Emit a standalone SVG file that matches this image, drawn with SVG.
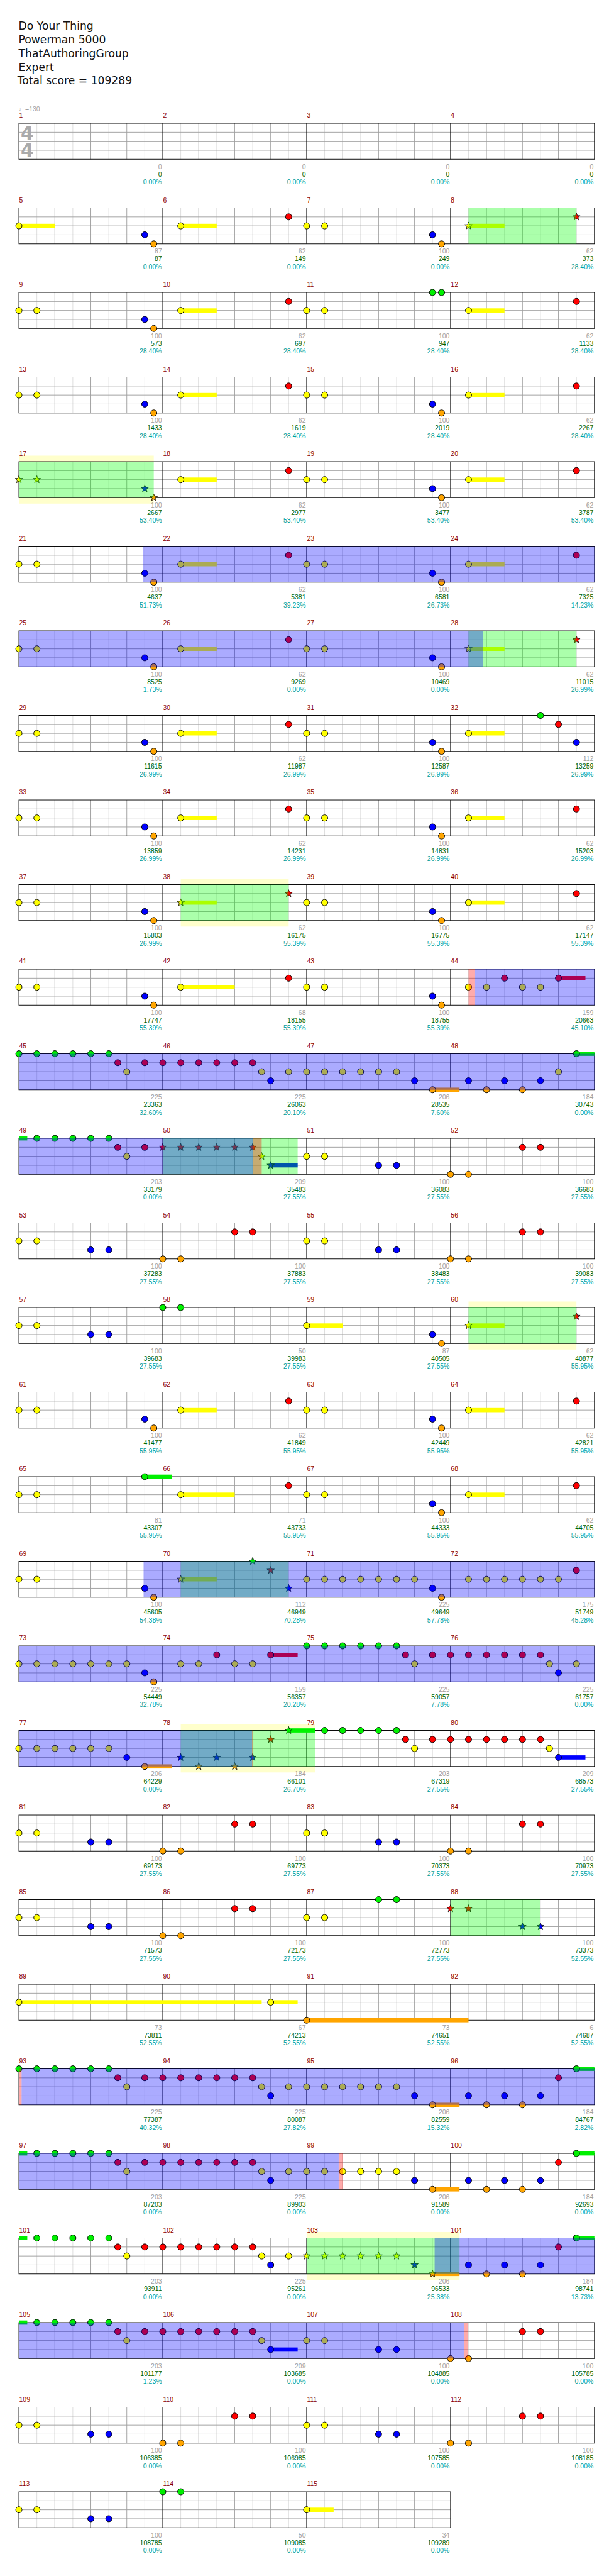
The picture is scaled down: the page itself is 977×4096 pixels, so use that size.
<svg xmlns="http://www.w3.org/2000/svg" xmlns:xlink="http://www.w3.org/1999/xlink" width="977" height="4096" viewBox="0 0 977 4096">
<style>
.t{font-family:"DejaVu Sans",sans-serif;font-size:18px;fill:#111}
.tm{font-family:"Liberation Sans","DejaVu Sans",sans-serif;font-size:11px;fill:#a0a0a0}
.ts{font-family:"DejaVu Sans",sans-serif;font-size:31px;font-weight:bold;fill:#aaa}
.mn{font-family:"Liberation Sans",Arial,sans-serif;font-size:11px;fill:#8b0000}
.a{font-family:"Liberation Sans",Arial,sans-serif;font-size:11px;text-anchor:end}
.g{fill:#a0a0a0}.s{fill:#006400}.p{fill:#00a0a0}
.uG{fill:#00f000}.uR{fill:#f00}.uY{fill:#ff0}.uB{fill:#00f}.uO{fill:#ffa500}
.ovg{fill:#0f0;fill-opacity:.33}.ovb{fill:#00f;fill-opacity:.33}.ovr{fill:#f00;fill-opacity:.33}.py{fill:#ffffcc}
.lt{stroke:#dcdcdc;stroke-width:1;fill:none}.gr{stroke:#a0a0a0;stroke-width:1;fill:none}.bk{stroke:#000;stroke-width:1;fill:none}
</style>
<defs>
<circle id="G" cy="0" r="5.2" fill="#00f000" stroke="#000"/>
<circle id="R" cy="15" r="5.2" fill="#f00" stroke="#000"/>
<circle id="Y" cy="30" r="5.2" fill="#ff0" stroke="#000"/>
<circle id="B" cy="45" r="5.2" fill="#00f" stroke="#000"/>
<circle id="O" cy="60" r="5.2" fill="#ffa500" stroke="#000"/>
<path id="st" d="M0-6.5L1.59-2.18 6.18-2.01 2.57 .83 3.82 5.26 0 2.7-3.82 5.26-2.57 .83-6.18-2.01-1.59-2.18Z"/>
<use id="SG" href="#st" y="0" fill="#00f000" stroke="#000" stroke-width=".8"/>
<use id="SR" href="#st" y="15" fill="#f00" stroke="#000" stroke-width=".8"/>
<use id="SY" href="#st" y="30" fill="#ff0" stroke="#000" stroke-width=".8"/>
<use id="SB" href="#st" y="45" fill="#00f" stroke="#000" stroke-width=".8"/>
<use id="SO" href="#st" y="60" fill="#ffa500" stroke="#000" stroke-width=".8"/>
<g id="staff4">
<rect width="960" height="60" fill="#fff"/>
<path class="lt" d="M30 0V60M90 0V60M150 0V60M210 0V60M270 0V60M330 0V60M390 0V60M450 0V60M510 0V60M570 0V60M630 0V60M690 0V60M750 0V60M810 0V60M870 0V60M930 0V60"/>
<path class="gr" d="M60 0V60M120 0V60M180 0V60M300 0V60M360 0V60M420 0V60M540 0V60M600 0V60M660 0V60M780 0V60M840 0V60M900 0V60M0 15H960M0 30H960M0 45H960"/>
<path class="bk" d="M240 0V60M480 0V60M720 0V60"/>
<rect class="bk" width="960" height="60"/>
</g>
<g id="staff3">
<rect width="720" height="60" fill="#fff"/>
<path class="lt" d="M30 0V60M90 0V60M150 0V60M210 0V60M270 0V60M330 0V60M390 0V60M450 0V60M510 0V60M570 0V60M630 0V60M690 0V60"/>
<path class="gr" d="M60 0V60M120 0V60M180 0V60M300 0V60M360 0V60M420 0V60M540 0V60M600 0V60M660 0V60M0 15H720M0 30H720M0 45H720"/>
<path class="bk" d="M240 0V60M480 0V60"/>
<rect class="bk" width="720" height="60"/>
</g>
</defs>
<rect width="977" height="4096" fill="#fff"/>
<g transform="scale(0.9539)">
<g id="header">
<text class="t" x="31" y="49">Do Your Thing</text>
<text class="t" x="31" y="72">Powerman 5000</text>
<text class="t" x="31" y="95">ThatAuthoringGroup</text>
<text class="t" x="31" y="118">Expert</text>
<text class="t" x="29" y="141">Total score = 109289</text>
<text class="tm" x="31" y="185.5">♩=130</text>
</g>

<g id="row1" transform="translate(31.5 205.5)"><use href="#staff4"/>
<g id="m1"><text class="mn" x="0.5" y="-9">1</text><text class="ts" x="3" y="27">4</text><text class="ts" x="3" y="56">4</text><text class="a g" x="238.5" y="76">0</text><text class="a s" x="238.5" y="89">0</text><text class="a p" x="238.5" y="102">0.00%</text></g>
<g id="m2" transform="translate(240)"><text class="mn" x="0.5" y="-9">2</text><text class="a g" x="238.5" y="76">0</text><text class="a s" x="238.5" y="89">0</text><text class="a p" x="238.5" y="102">0.00%</text></g>
<g id="m3" transform="translate(480)"><text class="mn" x="0.5" y="-9">3</text><text class="a g" x="238.5" y="76">0</text><text class="a s" x="238.5" y="89">0</text><text class="a p" x="238.5" y="102">0.00%</text></g>
<g id="m4" transform="translate(720)"><text class="mn" x="0.5" y="-9">4</text><text class="a g" x="238.5" y="76">0</text><text class="a s" x="238.5" y="89">0</text><text class="a p" x="238.5" y="102">0.00%</text></g>
</g>

<g id="row2" transform="translate(31.5 346.5)"><use href="#staff4"/>
<g id="m5"><text class="mn" x="0.5" y="-9">5</text><rect class="uY" x="0" y="26.5" width="60" height="7"/><use href="#Y" x="0"/><use href="#B" x="210"/><use href="#O" x="225"/><text class="a g" x="238.5" y="76">87</text><text class="a s" x="238.5" y="89">87</text><text class="a p" x="238.5" y="102">0.00%</text></g>
<g id="m6" transform="translate(240)"><text class="mn" x="0.5" y="-9">6</text><rect class="uY" x="30" y="26.5" width="60" height="7"/><use href="#Y" x="30"/><use href="#R" x="210"/><text class="a g" x="238.5" y="76">62</text><text class="a s" x="238.5" y="89">149</text><text class="a p" x="238.5" y="102">0.00%</text></g>
<g id="m7" transform="translate(480)"><text class="mn" x="0.5" y="-9">7</text><use href="#Y" x="0"/><use href="#Y" x="30"/><use href="#B" x="210"/><use href="#O" x="225"/><text class="a g" x="238.5" y="76">100</text><text class="a s" x="238.5" y="89">249</text><text class="a p" x="238.5" y="102">0.00%</text></g>
<g id="m8" transform="translate(720)"><text class="mn" x="0.5" y="-9">8</text><rect class="uY" x="30" y="26.5" width="60" height="7"/><use href="#SY" x="30"/><use href="#SR" x="210"/><text class="a g" x="238.5" y="76">62</text><text class="a s" x="238.5" y="89">373</text><text class="a p" x="238.5" y="102">28.40%</text></g>
<rect class="ovg" x="750" width="180" height="60"/>
</g>

<g id="row3" transform="translate(31.5 487.5)"><use href="#staff4"/>
<g id="m9"><text class="mn" x="0.5" y="-9">9</text><use href="#Y" x="0"/><use href="#Y" x="30"/><use href="#B" x="210"/><use href="#O" x="225"/><text class="a g" x="238.5" y="76">100</text><text class="a s" x="238.5" y="89">573</text><text class="a p" x="238.5" y="102">28.40%</text></g>
<g id="m10" transform="translate(240)"><text class="mn" x="0.5" y="-9">10</text><rect class="uY" x="30" y="26.5" width="60" height="7"/><use href="#Y" x="30"/><use href="#R" x="210"/><text class="a g" x="238.5" y="76">62</text><text class="a s" x="238.5" y="89">697</text><text class="a p" x="238.5" y="102">28.40%</text></g>
<g id="m11" transform="translate(480)"><text class="mn" x="0.5" y="-9">11</text><use href="#Y" x="0"/><use href="#Y" x="30"/><use href="#G" x="210"/><use href="#G" x="225"/><text class="a g" x="238.5" y="76">100</text><text class="a s" x="238.5" y="89">947</text><text class="a p" x="238.5" y="102">28.40%</text></g>
<g id="m12" transform="translate(720)"><text class="mn" x="0.5" y="-9">12</text><rect class="uY" x="30" y="26.5" width="60" height="7"/><use href="#Y" x="30"/><use href="#R" x="210"/><text class="a g" x="238.5" y="76">62</text><text class="a s" x="238.5" y="89">1133</text><text class="a p" x="238.5" y="102">28.40%</text></g>
</g>

<g id="row4" transform="translate(31.5 628.5)"><use href="#staff4"/>
<g id="m13"><text class="mn" x="0.5" y="-9">13</text><use href="#Y" x="0"/><use href="#Y" x="30"/><use href="#B" x="210"/><use href="#O" x="225"/><text class="a g" x="238.5" y="76">100</text><text class="a s" x="238.5" y="89">1433</text><text class="a p" x="238.5" y="102">28.40%</text></g>
<g id="m14" transform="translate(240)"><text class="mn" x="0.5" y="-9">14</text><rect class="uY" x="30" y="26.5" width="60" height="7"/><use href="#Y" x="30"/><use href="#R" x="210"/><text class="a g" x="238.5" y="76">62</text><text class="a s" x="238.5" y="89">1619</text><text class="a p" x="238.5" y="102">28.40%</text></g>
<g id="m15" transform="translate(480)"><text class="mn" x="0.5" y="-9">15</text><use href="#Y" x="0"/><use href="#Y" x="30"/><use href="#B" x="210"/><use href="#O" x="225"/><text class="a g" x="238.5" y="76">100</text><text class="a s" x="238.5" y="89">2019</text><text class="a p" x="238.5" y="102">28.40%</text></g>
<g id="m16" transform="translate(720)"><text class="mn" x="0.5" y="-9">16</text><rect class="uY" x="30" y="26.5" width="60" height="7"/><use href="#Y" x="30"/><use href="#R" x="210"/><text class="a g" x="238.5" y="76">62</text><text class="a s" x="238.5" y="89">2267</text><text class="a p" x="238.5" y="102">28.40%</text></g>
</g>

<g id="row5" transform="translate(31.5 769.5)"><rect class="py" x="0" y="-10" width="225" height="80"/><use href="#staff4"/>
<g id="m17"><text class="mn" x="0.5" y="-9">17</text><use href="#SY" x="0"/><use href="#SY" x="30"/><use href="#SB" x="210"/><use href="#SO" x="225"/><text class="a g" x="238.5" y="76">100</text><text class="a s" x="238.5" y="89">2667</text><text class="a p" x="238.5" y="102">53.40%</text></g>
<g id="m18" transform="translate(240)"><text class="mn" x="0.5" y="-9">18</text><rect class="uY" x="30" y="26.5" width="60" height="7"/><use href="#Y" x="30"/><use href="#R" x="210"/><text class="a g" x="238.5" y="76">62</text><text class="a s" x="238.5" y="89">2977</text><text class="a p" x="238.5" y="102">53.40%</text></g>
<g id="m19" transform="translate(480)"><text class="mn" x="0.5" y="-9">19</text><use href="#Y" x="0"/><use href="#Y" x="30"/><use href="#B" x="210"/><use href="#O" x="225"/><text class="a g" x="238.5" y="76">100</text><text class="a s" x="238.5" y="89">3477</text><text class="a p" x="238.5" y="102">53.40%</text></g>
<g id="m20" transform="translate(720)"><text class="mn" x="0.5" y="-9">20</text><rect class="uY" x="30" y="26.5" width="60" height="7"/><use href="#Y" x="30"/><use href="#R" x="210"/><text class="a g" x="238.5" y="76">62</text><text class="a s" x="238.5" y="89">3787</text><text class="a p" x="238.5" y="102">53.40%</text></g>
<rect class="ovg" x="0" width="225" height="60"/>
</g>

<g id="row6" transform="translate(31.5 910.5)"><use href="#staff4"/>
<g id="m21"><text class="mn" x="0.5" y="-9">21</text><use href="#Y" x="0"/><use href="#Y" x="30"/><use href="#B" x="210"/><use href="#O" x="225"/><text class="a g" x="238.5" y="76">100</text><text class="a s" x="238.5" y="89">4637</text><text class="a p" x="238.5" y="102">51.73%</text></g>
<g id="m22" transform="translate(240)"><text class="mn" x="0.5" y="-9">22</text><rect class="uY" x="30" y="26.5" width="60" height="7"/><use href="#Y" x="30"/><use href="#R" x="210"/><text class="a g" x="238.5" y="76">62</text><text class="a s" x="238.5" y="89">5381</text><text class="a p" x="238.5" y="102">39.23%</text></g>
<g id="m23" transform="translate(480)"><text class="mn" x="0.5" y="-9">23</text><use href="#Y" x="0"/><use href="#Y" x="30"/><use href="#B" x="210"/><use href="#O" x="225"/><text class="a g" x="238.5" y="76">100</text><text class="a s" x="238.5" y="89">6581</text><text class="a p" x="238.5" y="102">26.73%</text></g>
<g id="m24" transform="translate(720)"><text class="mn" x="0.5" y="-9">24</text><rect class="uY" x="30" y="26.5" width="60" height="7"/><use href="#Y" x="30"/><use href="#R" x="210"/><text class="a g" x="238.5" y="76">62</text><text class="a s" x="238.5" y="89">7325</text><text class="a p" x="238.5" y="102">14.23%</text></g>
<rect class="ovb" x="207" width="753" height="60"/>
</g>

<g id="row7" transform="translate(31.5 1051.5)"><use href="#staff4"/>
<g id="m25"><text class="mn" x="0.5" y="-9">25</text><use href="#Y" x="0"/><use href="#Y" x="30"/><use href="#B" x="210"/><use href="#O" x="225"/><text class="a g" x="238.5" y="76">100</text><text class="a s" x="238.5" y="89">8525</text><text class="a p" x="238.5" y="102">1.73%</text></g>
<g id="m26" transform="translate(240)"><text class="mn" x="0.5" y="-9">26</text><rect class="uY" x="30" y="26.5" width="60" height="7"/><use href="#Y" x="30"/><use href="#R" x="210"/><text class="a g" x="238.5" y="76">62</text><text class="a s" x="238.5" y="89">9269</text><text class="a p" x="238.5" y="102">0.00%</text></g>
<g id="m27" transform="translate(480)"><text class="mn" x="0.5" y="-9">27</text><use href="#Y" x="0"/><use href="#Y" x="30"/><use href="#B" x="210"/><use href="#O" x="225"/><text class="a g" x="238.5" y="76">100</text><text class="a s" x="238.5" y="89">10469</text><text class="a p" x="238.5" y="102">0.00%</text></g>
<g id="m28" transform="translate(720)"><text class="mn" x="0.5" y="-9">28</text><rect class="uY" x="30" y="26.5" width="60" height="7"/><use href="#SY" x="30"/><use href="#SR" x="210"/><text class="a g" x="238.5" y="76">62</text><text class="a s" x="238.5" y="89">11015</text><text class="a p" x="238.5" y="102">26.99%</text></g>
<rect class="ovg" x="750" width="180" height="60"/><rect class="ovb" x="0" width="774" height="60"/>
</g>

<g id="row8" transform="translate(31.5 1192.5)"><use href="#staff4"/>
<g id="m29"><text class="mn" x="0.5" y="-9">29</text><use href="#Y" x="0"/><use href="#Y" x="30"/><use href="#B" x="210"/><use href="#O" x="225"/><text class="a g" x="238.5" y="76">100</text><text class="a s" x="238.5" y="89">11615</text><text class="a p" x="238.5" y="102">26.99%</text></g>
<g id="m30" transform="translate(240)"><text class="mn" x="0.5" y="-9">30</text><rect class="uY" x="30" y="26.5" width="60" height="7"/><use href="#Y" x="30"/><use href="#R" x="210"/><text class="a g" x="238.5" y="76">62</text><text class="a s" x="238.5" y="89">11987</text><text class="a p" x="238.5" y="102">26.99%</text></g>
<g id="m31" transform="translate(480)"><text class="mn" x="0.5" y="-9">31</text><use href="#Y" x="0"/><use href="#Y" x="30"/><use href="#B" x="210"/><use href="#O" x="225"/><text class="a g" x="238.5" y="76">100</text><text class="a s" x="238.5" y="89">12587</text><text class="a p" x="238.5" y="102">26.99%</text></g>
<g id="m32" transform="translate(720)"><text class="mn" x="0.5" y="-9">32</text><rect class="uY" x="30" y="26.5" width="60" height="7"/><use href="#Y" x="30"/><use href="#G" x="150"/><use href="#R" x="180"/><use href="#B" x="210"/><text class="a g" x="238.5" y="76">112</text><text class="a s" x="238.5" y="89">13259</text><text class="a p" x="238.5" y="102">26.99%</text></g>
</g>

<g id="row9" transform="translate(31.5 1333.5)"><use href="#staff4"/>
<g id="m33"><text class="mn" x="0.5" y="-9">33</text><use href="#Y" x="0"/><use href="#Y" x="30"/><use href="#B" x="210"/><use href="#O" x="225"/><text class="a g" x="238.5" y="76">100</text><text class="a s" x="238.5" y="89">13859</text><text class="a p" x="238.5" y="102">26.99%</text></g>
<g id="m34" transform="translate(240)"><text class="mn" x="0.5" y="-9">34</text><rect class="uY" x="30" y="26.5" width="60" height="7"/><use href="#Y" x="30"/><use href="#R" x="210"/><text class="a g" x="238.5" y="76">62</text><text class="a s" x="238.5" y="89">14231</text><text class="a p" x="238.5" y="102">26.99%</text></g>
<g id="m35" transform="translate(480)"><text class="mn" x="0.5" y="-9">35</text><use href="#Y" x="0"/><use href="#Y" x="30"/><use href="#B" x="210"/><use href="#O" x="225"/><text class="a g" x="238.5" y="76">100</text><text class="a s" x="238.5" y="89">14831</text><text class="a p" x="238.5" y="102">26.99%</text></g>
<g id="m36" transform="translate(720)"><text class="mn" x="0.5" y="-9">36</text><rect class="uY" x="30" y="26.5" width="60" height="7"/><use href="#Y" x="30"/><use href="#R" x="210"/><text class="a g" x="238.5" y="76">62</text><text class="a s" x="238.5" y="89">15203</text><text class="a p" x="238.5" y="102">26.99%</text></g>
</g>

<g id="row10" transform="translate(31.5 1474.5)"><rect class="py" x="270" y="-10" width="180" height="80"/><use href="#staff4"/>
<g id="m37"><text class="mn" x="0.5" y="-9">37</text><use href="#Y" x="0"/><use href="#Y" x="30"/><use href="#B" x="210"/><use href="#O" x="225"/><text class="a g" x="238.5" y="76">100</text><text class="a s" x="238.5" y="89">15803</text><text class="a p" x="238.5" y="102">26.99%</text></g>
<g id="m38" transform="translate(240)"><text class="mn" x="0.5" y="-9">38</text><rect class="uY" x="30" y="26.5" width="60" height="7"/><use href="#SY" x="30"/><use href="#SR" x="210"/><text class="a g" x="238.5" y="76">62</text><text class="a s" x="238.5" y="89">16175</text><text class="a p" x="238.5" y="102">55.39%</text></g>
<g id="m39" transform="translate(480)"><text class="mn" x="0.5" y="-9">39</text><use href="#Y" x="0"/><use href="#Y" x="30"/><use href="#B" x="210"/><use href="#O" x="225"/><text class="a g" x="238.5" y="76">100</text><text class="a s" x="238.5" y="89">16775</text><text class="a p" x="238.5" y="102">55.39%</text></g>
<g id="m40" transform="translate(720)"><text class="mn" x="0.5" y="-9">40</text><rect class="uY" x="30" y="26.5" width="60" height="7"/><use href="#Y" x="30"/><use href="#R" x="210"/><text class="a g" x="238.5" y="76">62</text><text class="a s" x="238.5" y="89">17147</text><text class="a p" x="238.5" y="102">55.39%</text></g>
<rect class="ovg" x="270" width="180" height="60"/>
</g>

<g id="row11" transform="translate(31.5 1615.5)"><use href="#staff4"/>
<g id="m41"><text class="mn" x="0.5" y="-9">41</text><use href="#Y" x="0"/><use href="#Y" x="30"/><use href="#B" x="210"/><use href="#O" x="225"/><text class="a g" x="238.5" y="76">100</text><text class="a s" x="238.5" y="89">17747</text><text class="a p" x="238.5" y="102">55.39%</text></g>
<g id="m42" transform="translate(240)"><text class="mn" x="0.5" y="-9">42</text><rect class="uY" x="30" y="26.5" width="90" height="7"/><use href="#Y" x="30"/><use href="#R" x="210"/><text class="a g" x="238.5" y="76">68</text><text class="a s" x="238.5" y="89">18155</text><text class="a p" x="238.5" y="102">55.39%</text></g>
<g id="m43" transform="translate(480)"><text class="mn" x="0.5" y="-9">43</text><use href="#Y" x="0"/><use href="#Y" x="30"/><use href="#B" x="210"/><use href="#O" x="225"/><text class="a g" x="238.5" y="76">100</text><text class="a s" x="238.5" y="89">18755</text><text class="a p" x="238.5" y="102">55.39%</text></g>
<g id="m44" transform="translate(720)"><text class="mn" x="0.5" y="-9">44</text><rect class="uR" x="180" y="11.5" width="45" height="7"/><use href="#Y" x="30"/><use href="#Y" x="60"/><use href="#R" x="90"/><use href="#Y" x="120"/><use href="#Y" x="150"/><use href="#R" x="180"/><text class="a g" x="238.5" y="76">159</text><text class="a s" x="238.5" y="89">20663</text><text class="a p" x="238.5" y="102">45.10%</text></g>
<rect class="ovr" x="750" width="11" height="60"/><rect class="ovb" x="761" width="199" height="60"/>
</g>

<g id="row12" transform="translate(31.5 1756.5)"><use href="#staff4"/>
<g id="m45"><text class="mn" x="0.5" y="-9">45</text><use href="#G" x="0"/><use href="#G" x="30"/><use href="#G" x="60"/><use href="#G" x="90"/><use href="#G" x="120"/><use href="#G" x="150"/><use href="#R" x="165"/><use href="#Y" x="180"/><use href="#R" x="210"/><text class="a g" x="238.5" y="76">225</text><text class="a s" x="238.5" y="89">23363</text><text class="a p" x="238.5" y="102">32.60%</text></g>
<g id="m46" transform="translate(240)"><text class="mn" x="0.5" y="-9">46</text><use href="#R" x="0"/><use href="#R" x="30"/><use href="#R" x="60"/><use href="#R" x="90"/><use href="#R" x="120"/><use href="#R" x="150"/><use href="#Y" x="165"/><use href="#B" x="180"/><use href="#Y" x="210"/><text class="a g" x="238.5" y="76">225</text><text class="a s" x="238.5" y="89">26063</text><text class="a p" x="238.5" y="102">20.10%</text></g>
<g id="m47" transform="translate(480)"><text class="mn" x="0.5" y="-9">47</text><rect class="uO" x="210" y="56.5" width="45" height="7"/><use href="#Y" x="0"/><use href="#Y" x="30"/><use href="#Y" x="60"/><use href="#Y" x="90"/><use href="#Y" x="120"/><use href="#Y" x="150"/><use href="#B" x="180"/><use href="#O" x="210"/><text class="a g" x="238.5" y="76">206</text><text class="a s" x="238.5" y="89">28535</text><text class="a p" x="238.5" y="102">7.60%</text></g>
<g id="m48" transform="translate(720)"><text class="mn" x="0.5" y="-9">48</text><rect class="uG" x="210" y="-3.5" width="30" height="7"/><use href="#B" x="30"/><use href="#O" x="60"/><use href="#B" x="90"/><use href="#O" x="120"/><use href="#B" x="150"/><use href="#Y" x="180"/><use href="#G" x="210"/><text class="a g" x="238.5" y="76">184</text><text class="a s" x="238.5" y="89">30743</text><text class="a p" x="238.5" y="102">0.00%</text></g>
<rect class="ovb" x="0" width="960" height="60"/>
</g>

<g id="row13" transform="translate(31.5 1897.5)"><use href="#staff4"/>
<g id="m49"><text class="mn" x="0.5" y="-9">49</text><rect class="uG" x="0" y="-3.5" width="14" height="7"/><use href="#G" x="30"/><use href="#G" x="60"/><use href="#G" x="90"/><use href="#G" x="120"/><use href="#G" x="150"/><use href="#R" x="165"/><use href="#Y" x="180"/><use href="#R" x="210"/><text class="a g" x="238.5" y="76">203</text><text class="a s" x="238.5" y="89">33179</text><text class="a p" x="238.5" y="102">0.00%</text></g>
<g id="m50" transform="translate(240)"><text class="mn" x="0.5" y="-9">50</text><rect class="uB" x="180" y="41.5" width="45" height="7"/><use href="#SR" x="0"/><use href="#SR" x="30"/><use href="#SR" x="60"/><use href="#SR" x="90"/><use href="#SR" x="120"/><use href="#SR" x="150"/><use href="#SY" x="165"/><use href="#SB" x="180"/><text class="a g" x="238.5" y="76">209</text><text class="a s" x="238.5" y="89">35483</text><text class="a p" x="238.5" y="102">27.55%</text></g>
<g id="m51" transform="translate(480)"><text class="mn" x="0.5" y="-9">51</text><use href="#Y" x="0"/><use href="#Y" x="30"/><use href="#B" x="120"/><use href="#B" x="150"/><text class="a g" x="238.5" y="76">100</text><text class="a s" x="238.5" y="89">36083</text><text class="a p" x="238.5" y="102">27.55%</text></g>
<g id="m52" transform="translate(720)"><text class="mn" x="0.5" y="-9">52</text><use href="#O" x="0"/><use href="#O" x="30"/><use href="#R" x="120"/><use href="#R" x="150"/><text class="a g" x="238.5" y="76">100</text><text class="a s" x="238.5" y="89">36683</text><text class="a p" x="238.5" y="102">27.55%</text></g>
<rect class="ovg" x="240" width="225" height="60"/><rect class="ovb" x="0" width="390" height="60"/><rect class="ovr" x="390" width="15" height="60"/>
</g>

<g id="row14" transform="translate(31.5 2038.5)"><use href="#staff4"/>
<g id="m53"><text class="mn" x="0.5" y="-9">53</text><use href="#Y" x="0"/><use href="#Y" x="30"/><use href="#B" x="120"/><use href="#B" x="150"/><text class="a g" x="238.5" y="76">100</text><text class="a s" x="238.5" y="89">37283</text><text class="a p" x="238.5" y="102">27.55%</text></g>
<g id="m54" transform="translate(240)"><text class="mn" x="0.5" y="-9">54</text><use href="#O" x="0"/><use href="#O" x="30"/><use href="#R" x="120"/><use href="#R" x="150"/><text class="a g" x="238.5" y="76">100</text><text class="a s" x="238.5" y="89">37883</text><text class="a p" x="238.5" y="102">27.55%</text></g>
<g id="m55" transform="translate(480)"><text class="mn" x="0.5" y="-9">55</text><use href="#Y" x="0"/><use href="#Y" x="30"/><use href="#B" x="120"/><use href="#B" x="150"/><text class="a g" x="238.5" y="76">100</text><text class="a s" x="238.5" y="89">38483</text><text class="a p" x="238.5" y="102">27.55%</text></g>
<g id="m56" transform="translate(720)"><text class="mn" x="0.5" y="-9">56</text><use href="#O" x="0"/><use href="#O" x="30"/><use href="#R" x="120"/><use href="#R" x="150"/><text class="a g" x="238.5" y="76">100</text><text class="a s" x="238.5" y="89">39083</text><text class="a p" x="238.5" y="102">27.55%</text></g>
</g>

<g id="row15" transform="translate(31.5 2179.5)"><rect class="py" x="750" y="-10" width="180" height="80"/><use href="#staff4"/>
<g id="m57"><text class="mn" x="0.5" y="-9">57</text><use href="#Y" x="0"/><use href="#Y" x="30"/><use href="#B" x="120"/><use href="#B" x="150"/><text class="a g" x="238.5" y="76">100</text><text class="a s" x="238.5" y="89">39683</text><text class="a p" x="238.5" y="102">27.55%</text></g>
<g id="m58" transform="translate(240)"><text class="mn" x="0.5" y="-9">58</text><use href="#G" x="0"/><use href="#G" x="30"/><text class="a g" x="238.5" y="76">50</text><text class="a s" x="238.5" y="89">39983</text><text class="a p" x="238.5" y="102">27.55%</text></g>
<g id="m59" transform="translate(480)"><text class="mn" x="0.5" y="-9">59</text><rect class="uY" x="0" y="26.5" width="60" height="7"/><use href="#Y" x="0"/><use href="#B" x="210"/><use href="#O" x="225"/><text class="a g" x="238.5" y="76">87</text><text class="a s" x="238.5" y="89">40505</text><text class="a p" x="238.5" y="102">27.55%</text></g>
<g id="m60" transform="translate(720)"><text class="mn" x="0.5" y="-9">60</text><rect class="uY" x="30" y="26.5" width="60" height="7"/><use href="#SY" x="30"/><use href="#SR" x="210"/><text class="a g" x="238.5" y="76">62</text><text class="a s" x="238.5" y="89">40877</text><text class="a p" x="238.5" y="102">55.95%</text></g>
<rect class="ovg" x="750" width="180" height="60"/>
</g>

<g id="row16" transform="translate(31.5 2320.5)"><use href="#staff4"/>
<g id="m61"><text class="mn" x="0.5" y="-9">61</text><use href="#Y" x="0"/><use href="#Y" x="30"/><use href="#B" x="210"/><use href="#O" x="225"/><text class="a g" x="238.5" y="76">100</text><text class="a s" x="238.5" y="89">41477</text><text class="a p" x="238.5" y="102">55.95%</text></g>
<g id="m62" transform="translate(240)"><text class="mn" x="0.5" y="-9">62</text><rect class="uY" x="30" y="26.5" width="60" height="7"/><use href="#Y" x="30"/><use href="#R" x="210"/><text class="a g" x="238.5" y="76">62</text><text class="a s" x="238.5" y="89">41849</text><text class="a p" x="238.5" y="102">55.95%</text></g>
<g id="m63" transform="translate(480)"><text class="mn" x="0.5" y="-9">63</text><use href="#Y" x="0"/><use href="#Y" x="30"/><use href="#B" x="210"/><use href="#O" x="225"/><text class="a g" x="238.5" y="76">100</text><text class="a s" x="238.5" y="89">42449</text><text class="a p" x="238.5" y="102">55.95%</text></g>
<g id="m64" transform="translate(720)"><text class="mn" x="0.5" y="-9">64</text><rect class="uY" x="30" y="26.5" width="60" height="7"/><use href="#Y" x="30"/><use href="#R" x="210"/><text class="a g" x="238.5" y="76">62</text><text class="a s" x="238.5" y="89">42821</text><text class="a p" x="238.5" y="102">55.95%</text></g>
</g>

<g id="row17" transform="translate(31.5 2461.5)"><use href="#staff4"/>
<g id="m65"><text class="mn" x="0.5" y="-9">65</text><rect class="uG" x="210" y="-3.5" width="45" height="7"/><use href="#Y" x="0"/><use href="#Y" x="30"/><use href="#G" x="210"/><text class="a g" x="238.5" y="76">81</text><text class="a s" x="238.5" y="89">43307</text><text class="a p" x="238.5" y="102">55.95%</text></g>
<g id="m66" transform="translate(240)"><text class="mn" x="0.5" y="-9">66</text><rect class="uY" x="30" y="26.5" width="90" height="7"/><use href="#Y" x="30"/><use href="#R" x="210"/><text class="a g" x="238.5" y="76">71</text><text class="a s" x="238.5" y="89">43733</text><text class="a p" x="238.5" y="102">55.95%</text></g>
<g id="m67" transform="translate(480)"><text class="mn" x="0.5" y="-9">67</text><use href="#Y" x="0"/><use href="#Y" x="30"/><use href="#B" x="210"/><use href="#O" x="225"/><text class="a g" x="238.5" y="76">100</text><text class="a s" x="238.5" y="89">44333</text><text class="a p" x="238.5" y="102">55.95%</text></g>
<g id="m68" transform="translate(720)"><text class="mn" x="0.5" y="-9">68</text><rect class="uY" x="30" y="26.5" width="60" height="7"/><use href="#Y" x="30"/><use href="#R" x="210"/><text class="a g" x="238.5" y="76">62</text><text class="a s" x="238.5" y="89">44705</text><text class="a p" x="238.5" y="102">55.95%</text></g>
</g>

<g id="row18" transform="translate(31.5 2602.5)"><use href="#staff4"/>
<g id="m69"><text class="mn" x="0.5" y="-9">69</text><use href="#Y" x="0"/><use href="#Y" x="30"/><use href="#B" x="210"/><use href="#O" x="225"/><text class="a g" x="238.5" y="76">100</text><text class="a s" x="238.5" y="89">45605</text><text class="a p" x="238.5" y="102">54.38%</text></g>
<g id="m70" transform="translate(240)"><text class="mn" x="0.5" y="-9">70</text><rect class="uY" x="30" y="26.5" width="60" height="7"/><use href="#SY" x="30"/><use href="#SG" x="150"/><use href="#SR" x="180"/><use href="#SB" x="210"/><text class="a g" x="238.5" y="76">112</text><text class="a s" x="238.5" y="89">46949</text><text class="a p" x="238.5" y="102">70.28%</text></g>
<g id="m71" transform="translate(480)"><text class="mn" x="0.5" y="-9">71</text><use href="#Y" x="0"/><use href="#Y" x="30"/><use href="#Y" x="60"/><use href="#Y" x="90"/><use href="#Y" x="120"/><use href="#Y" x="150"/><use href="#Y" x="180"/><use href="#B" x="210"/><use href="#O" x="225"/><text class="a g" x="238.5" y="76">225</text><text class="a s" x="238.5" y="89">49649</text><text class="a p" x="238.5" y="102">57.78%</text></g>
<g id="m72" transform="translate(720)"><text class="mn" x="0.5" y="-9">72</text><use href="#Y" x="30"/><use href="#Y" x="60"/><use href="#Y" x="90"/><use href="#Y" x="120"/><use href="#Y" x="150"/><use href="#Y" x="180"/><use href="#R" x="210"/><text class="a g" x="238.5" y="76">175</text><text class="a s" x="238.5" y="89">51749</text><text class="a p" x="238.5" y="102">45.28%</text></g>
<rect class="ovg" x="270" width="180" height="60"/><rect class="ovb" x="208" width="752" height="60"/>
</g>

<g id="row19" transform="translate(31.5 2743.5)"><use href="#staff4"/>
<g id="m73"><text class="mn" x="0.5" y="-9">73</text><use href="#Y" x="0"/><use href="#Y" x="30"/><use href="#Y" x="60"/><use href="#Y" x="90"/><use href="#Y" x="120"/><use href="#Y" x="150"/><use href="#Y" x="180"/><use href="#B" x="210"/><use href="#O" x="225"/><text class="a g" x="238.5" y="76">225</text><text class="a s" x="238.5" y="89">54449</text><text class="a p" x="238.5" y="102">32.78%</text></g>
<g id="m74" transform="translate(240)"><text class="mn" x="0.5" y="-9">74</text><rect class="uR" x="180" y="11.5" width="45" height="7"/><use href="#Y" x="30"/><use href="#Y" x="60"/><use href="#R" x="90"/><use href="#Y" x="120"/><use href="#Y" x="150"/><use href="#R" x="180"/><text class="a g" x="238.5" y="76">159</text><text class="a s" x="238.5" y="89">56357</text><text class="a p" x="238.5" y="102">20.28%</text></g>
<g id="m75" transform="translate(480)"><text class="mn" x="0.5" y="-9">75</text><use href="#G" x="0"/><use href="#G" x="30"/><use href="#G" x="60"/><use href="#G" x="90"/><use href="#G" x="120"/><use href="#G" x="150"/><use href="#R" x="165"/><use href="#Y" x="180"/><use href="#R" x="210"/><text class="a g" x="238.5" y="76">225</text><text class="a s" x="238.5" y="89">59057</text><text class="a p" x="238.5" y="102">7.78%</text></g>
<g id="m76" transform="translate(720)"><text class="mn" x="0.5" y="-9">76</text><use href="#R" x="0"/><use href="#R" x="30"/><use href="#R" x="60"/><use href="#R" x="90"/><use href="#R" x="120"/><use href="#R" x="150"/><use href="#Y" x="165"/><use href="#B" x="180"/><use href="#Y" x="210"/><text class="a g" x="238.5" y="76">225</text><text class="a s" x="238.5" y="89">61757</text><text class="a p" x="238.5" y="102">0.00%</text></g>
<rect class="ovb" x="0" width="960" height="60"/>
</g>

<g id="row20" transform="translate(31.5 2884.5)"><rect class="py" x="270" y="-10" width="224" height="80"/><use href="#staff4"/>
<g id="m77"><text class="mn" x="0.5" y="-9">77</text><rect class="uO" x="210" y="56.5" width="45" height="7"/><use href="#Y" x="0"/><use href="#Y" x="30"/><use href="#Y" x="60"/><use href="#Y" x="90"/><use href="#Y" x="120"/><use href="#Y" x="150"/><use href="#B" x="180"/><use href="#O" x="210"/><text class="a g" x="238.5" y="76">206</text><text class="a s" x="238.5" y="89">64229</text><text class="a p" x="238.5" y="102">0.00%</text></g>
<g id="m78" transform="translate(240)"><text class="mn" x="0.5" y="-9">78</text><rect class="uG" x="210" y="-3.5" width="44" height="7"/><use href="#SB" x="30"/><use href="#SO" x="60"/><use href="#SB" x="90"/><use href="#SO" x="120"/><use href="#SB" x="150"/><use href="#SR" x="180"/><use href="#SG" x="210"/><text class="a g" x="238.5" y="76">184</text><text class="a s" x="238.5" y="89">66101</text><text class="a p" x="238.5" y="102">26.70%</text></g>
<g id="m79" transform="translate(480)"><text class="mn" x="0.5" y="-9">79</text><use href="#G" x="30"/><use href="#G" x="60"/><use href="#G" x="90"/><use href="#G" x="120"/><use href="#G" x="150"/><use href="#R" x="165"/><use href="#Y" x="180"/><use href="#R" x="210"/><text class="a g" x="238.5" y="76">203</text><text class="a s" x="238.5" y="89">67319</text><text class="a p" x="238.5" y="102">27.55%</text></g>
<g id="m80" transform="translate(720)"><text class="mn" x="0.5" y="-9">80</text><rect class="uB" x="180" y="41.5" width="45" height="7"/><use href="#R" x="0"/><use href="#R" x="30"/><use href="#R" x="60"/><use href="#R" x="90"/><use href="#R" x="120"/><use href="#R" x="150"/><use href="#Y" x="165"/><use href="#B" x="180"/><text class="a g" x="238.5" y="76">209</text><text class="a s" x="238.5" y="89">68573</text><text class="a p" x="238.5" y="102">27.55%</text></g>
<rect class="ovg" x="270" width="224" height="60"/><rect class="ovb" x="0" width="389" height="60"/><rect class="ovr" x="389" width="2" height="60"/>
</g>

<g id="row21" transform="translate(31.5 3025.5)"><use href="#staff4"/>
<g id="m81"><text class="mn" x="0.5" y="-9">81</text><use href="#Y" x="0"/><use href="#Y" x="30"/><use href="#B" x="120"/><use href="#B" x="150"/><text class="a g" x="238.5" y="76">100</text><text class="a s" x="238.5" y="89">69173</text><text class="a p" x="238.5" y="102">27.55%</text></g>
<g id="m82" transform="translate(240)"><text class="mn" x="0.5" y="-9">82</text><use href="#O" x="0"/><use href="#O" x="30"/><use href="#R" x="120"/><use href="#R" x="150"/><text class="a g" x="238.5" y="76">100</text><text class="a s" x="238.5" y="89">69773</text><text class="a p" x="238.5" y="102">27.55%</text></g>
<g id="m83" transform="translate(480)"><text class="mn" x="0.5" y="-9">83</text><use href="#Y" x="0"/><use href="#Y" x="30"/><use href="#B" x="120"/><use href="#B" x="150"/><text class="a g" x="238.5" y="76">100</text><text class="a s" x="238.5" y="89">70373</text><text class="a p" x="238.5" y="102">27.55%</text></g>
<g id="m84" transform="translate(720)"><text class="mn" x="0.5" y="-9">84</text><use href="#O" x="0"/><use href="#O" x="30"/><use href="#R" x="120"/><use href="#R" x="150"/><text class="a g" x="238.5" y="76">100</text><text class="a s" x="238.5" y="89">70973</text><text class="a p" x="238.5" y="102">27.55%</text></g>
</g>

<g id="row22" transform="translate(31.5 3166.5)"><use href="#staff4"/>
<g id="m85"><text class="mn" x="0.5" y="-9">85</text><use href="#Y" x="0"/><use href="#Y" x="30"/><use href="#B" x="120"/><use href="#B" x="150"/><text class="a g" x="238.5" y="76">100</text><text class="a s" x="238.5" y="89">71573</text><text class="a p" x="238.5" y="102">27.55%</text></g>
<g id="m86" transform="translate(240)"><text class="mn" x="0.5" y="-9">86</text><use href="#O" x="0"/><use href="#O" x="30"/><use href="#R" x="120"/><use href="#R" x="150"/><text class="a g" x="238.5" y="76">100</text><text class="a s" x="238.5" y="89">72173</text><text class="a p" x="238.5" y="102">27.55%</text></g>
<g id="m87" transform="translate(480)"><text class="mn" x="0.5" y="-9">87</text><use href="#Y" x="0"/><use href="#Y" x="30"/><use href="#G" x="120"/><use href="#G" x="150"/><text class="a g" x="238.5" y="76">100</text><text class="a s" x="238.5" y="89">72773</text><text class="a p" x="238.5" y="102">27.55%</text></g>
<g id="m88" transform="translate(720)"><text class="mn" x="0.5" y="-9">88</text><use href="#SR" x="0"/><use href="#SR" x="30"/><use href="#SB" x="120"/><use href="#SB" x="150"/><text class="a g" x="238.5" y="76">100</text><text class="a s" x="238.5" y="89">73373</text><text class="a p" x="238.5" y="102">52.55%</text></g>
<rect class="ovg" x="720" width="150" height="60"/>
</g>

<g id="row23" transform="translate(31.5 3307.5)"><use href="#staff4"/>
<g id="m89"><text class="mn" x="0.5" y="-9">89</text><rect class="uY" x="0" y="26.5" width="405" height="7"/><use href="#Y" x="0"/><text class="a g" x="238.5" y="76">73</text><text class="a s" x="238.5" y="89">73811</text><text class="a p" x="238.5" y="102">52.55%</text></g>
<g id="m90" transform="translate(240)"><text class="mn" x="0.5" y="-9">90</text><rect class="uY" x="180" y="26.5" width="45" height="7"/><use href="#Y" x="180"/><text class="a g" x="238.5" y="76">67</text><text class="a s" x="238.5" y="89">74213</text><text class="a p" x="238.5" y="102">52.55%</text></g>
<g id="m91" transform="translate(480)"><text class="mn" x="0.5" y="-9">91</text><rect class="uO" x="0" y="56.5" width="270" height="7"/><use href="#O" x="0"/><text class="a g" x="238.5" y="76">73</text><text class="a s" x="238.5" y="89">74651</text><text class="a p" x="238.5" y="102">52.55%</text></g>
<g id="m92" transform="translate(720)"><text class="mn" x="0.5" y="-9">92</text><text class="a g" x="238.5" y="76">6</text><text class="a s" x="238.5" y="89">74687</text><text class="a p" x="238.5" y="102">52.55%</text></g>
</g>

<g id="row24" transform="translate(31.5 3448.5)"><use href="#staff4"/>
<g id="m93"><text class="mn" x="0.5" y="-9">93</text><use href="#G" x="0"/><use href="#G" x="30"/><use href="#G" x="60"/><use href="#G" x="90"/><use href="#G" x="120"/><use href="#G" x="150"/><use href="#R" x="165"/><use href="#Y" x="180"/><use href="#R" x="210"/><text class="a g" x="238.5" y="76">225</text><text class="a s" x="238.5" y="89">77387</text><text class="a p" x="238.5" y="102">40.32%</text></g>
<g id="m94" transform="translate(240)"><text class="mn" x="0.5" y="-9">94</text><use href="#R" x="0"/><use href="#R" x="30"/><use href="#R" x="60"/><use href="#R" x="90"/><use href="#R" x="120"/><use href="#R" x="150"/><use href="#Y" x="165"/><use href="#B" x="180"/><use href="#Y" x="210"/><text class="a g" x="238.5" y="76">225</text><text class="a s" x="238.5" y="89">80087</text><text class="a p" x="238.5" y="102">27.82%</text></g>
<g id="m95" transform="translate(480)"><text class="mn" x="0.5" y="-9">95</text><rect class="uO" x="210" y="56.5" width="45" height="7"/><use href="#Y" x="0"/><use href="#Y" x="30"/><use href="#Y" x="60"/><use href="#Y" x="90"/><use href="#Y" x="120"/><use href="#Y" x="150"/><use href="#B" x="180"/><use href="#O" x="210"/><text class="a g" x="238.5" y="76">206</text><text class="a s" x="238.5" y="89">82559</text><text class="a p" x="238.5" y="102">15.32%</text></g>
<g id="m96" transform="translate(720)"><text class="mn" x="0.5" y="-9">96</text><rect class="uG" x="210" y="-3.5" width="30" height="7"/><use href="#B" x="30"/><use href="#O" x="60"/><use href="#B" x="90"/><use href="#O" x="120"/><use href="#B" x="150"/><use href="#R" x="180"/><use href="#G" x="210"/><text class="a g" x="238.5" y="76">184</text><text class="a s" x="238.5" y="89">84767</text><text class="a p" x="238.5" y="102">2.82%</text></g>
<rect class="ovr" x="0" width="4.5" height="60"/><rect class="ovb" x="4.5" width="955.5" height="60"/>
</g>

<g id="row25" transform="translate(31.5 3589.5)"><use href="#staff4"/>
<g id="m97"><text class="mn" x="0.5" y="-9">97</text><rect class="uG" x="0" y="-3.5" width="14" height="7"/><use href="#G" x="30"/><use href="#G" x="60"/><use href="#G" x="90"/><use href="#G" x="120"/><use href="#G" x="150"/><use href="#R" x="165"/><use href="#Y" x="180"/><use href="#R" x="210"/><text class="a g" x="238.5" y="76">203</text><text class="a s" x="238.5" y="89">87203</text><text class="a p" x="238.5" y="102">0.00%</text></g>
<g id="m98" transform="translate(240)"><text class="mn" x="0.5" y="-9">98</text><use href="#R" x="0"/><use href="#R" x="30"/><use href="#R" x="60"/><use href="#R" x="90"/><use href="#R" x="120"/><use href="#R" x="150"/><use href="#Y" x="165"/><use href="#B" x="180"/><use href="#Y" x="210"/><text class="a g" x="238.5" y="76">225</text><text class="a s" x="238.5" y="89">89903</text><text class="a p" x="238.5" y="102">0.00%</text></g>
<g id="m99" transform="translate(480)"><text class="mn" x="0.5" y="-9">99</text><rect class="uO" x="210" y="56.5" width="45" height="7"/><use href="#Y" x="0"/><use href="#Y" x="30"/><use href="#Y" x="60"/><use href="#Y" x="90"/><use href="#Y" x="120"/><use href="#Y" x="150"/><use href="#B" x="180"/><use href="#O" x="210"/><text class="a g" x="238.5" y="76">206</text><text class="a s" x="238.5" y="89">91589</text><text class="a p" x="238.5" y="102">0.00%</text></g>
<g id="m100" transform="translate(720)"><text class="mn" x="0.5" y="-9">100</text><rect class="uG" x="210" y="-3.5" width="30" height="7"/><use href="#B" x="30"/><use href="#O" x="60"/><use href="#B" x="90"/><use href="#O" x="120"/><use href="#B" x="150"/><use href="#R" x="180"/><use href="#G" x="210"/><text class="a g" x="238.5" y="76">184</text><text class="a s" x="238.5" y="89">92693</text><text class="a p" x="238.5" y="102">0.00%</text></g>
<rect class="ovb" x="0" width="533.5" height="60"/><rect class="ovr" x="533.5" width="6.5" height="60"/>
</g>

<g id="row26" transform="translate(31.5 3730.5)"><rect class="py" x="480" y="-10" width="255" height="80"/><use href="#staff4"/>
<g id="m101"><text class="mn" x="0.5" y="-9">101</text><rect class="uG" x="0" y="-3.5" width="14" height="7"/><use href="#G" x="30"/><use href="#G" x="60"/><use href="#G" x="90"/><use href="#G" x="120"/><use href="#G" x="150"/><use href="#R" x="165"/><use href="#Y" x="180"/><use href="#R" x="210"/><text class="a g" x="238.5" y="76">203</text><text class="a s" x="238.5" y="89">93911</text><text class="a p" x="238.5" y="102">0.00%</text></g>
<g id="m102" transform="translate(240)"><text class="mn" x="0.5" y="-9">102</text><use href="#R" x="0"/><use href="#R" x="30"/><use href="#R" x="60"/><use href="#R" x="90"/><use href="#R" x="120"/><use href="#R" x="150"/><use href="#Y" x="165"/><use href="#B" x="180"/><use href="#Y" x="210"/><text class="a g" x="238.5" y="76">225</text><text class="a s" x="238.5" y="89">95261</text><text class="a p" x="238.5" y="102">0.00%</text></g>
<g id="m103" transform="translate(480)"><text class="mn" x="0.5" y="-9">103</text><rect class="uO" x="210" y="56.5" width="45" height="7"/><use href="#SY" x="0"/><use href="#SY" x="30"/><use href="#SY" x="60"/><use href="#SY" x="90"/><use href="#SY" x="120"/><use href="#SY" x="150"/><use href="#SB" x="180"/><use href="#SO" x="210"/><text class="a g" x="238.5" y="76">206</text><text class="a s" x="238.5" y="89">96533</text><text class="a p" x="238.5" y="102">25.38%</text></g>
<g id="m104" transform="translate(720)"><text class="mn" x="0.5" y="-9">104</text><rect class="uG" x="210" y="-3.5" width="30" height="7"/><use href="#B" x="30"/><use href="#O" x="60"/><use href="#B" x="90"/><use href="#O" x="120"/><use href="#B" x="150"/><use href="#R" x="180"/><use href="#G" x="210"/><text class="a g" x="238.5" y="76">184</text><text class="a s" x="238.5" y="89">98741</text><text class="a p" x="238.5" y="102">13.73%</text></g>
<rect class="ovg" x="480" width="255" height="60"/><rect class="ovb" x="693.5" width="266.5" height="60"/>
</g>

<g id="row27" transform="translate(31.5 3871.5)"><use href="#staff4"/>
<g id="m105"><text class="mn" x="0.5" y="-9">105</text><rect class="uG" x="0" y="-3.5" width="14" height="7"/><use href="#G" x="30"/><use href="#G" x="60"/><use href="#G" x="90"/><use href="#G" x="120"/><use href="#G" x="150"/><use href="#R" x="165"/><use href="#Y" x="180"/><use href="#R" x="210"/><text class="a g" x="238.5" y="76">203</text><text class="a s" x="238.5" y="89">101177</text><text class="a p" x="238.5" y="102">1.23%</text></g>
<g id="m106" transform="translate(240)"><text class="mn" x="0.5" y="-9">106</text><rect class="uB" x="180" y="41.5" width="45" height="7"/><use href="#R" x="0"/><use href="#R" x="30"/><use href="#R" x="60"/><use href="#R" x="90"/><use href="#R" x="120"/><use href="#R" x="150"/><use href="#Y" x="165"/><use href="#B" x="180"/><text class="a g" x="238.5" y="76">209</text><text class="a s" x="238.5" y="89">103685</text><text class="a p" x="238.5" y="102">0.00%</text></g>
<g id="m107" transform="translate(480)"><text class="mn" x="0.5" y="-9">107</text><use href="#Y" x="0"/><use href="#Y" x="30"/><use href="#B" x="120"/><use href="#B" x="150"/><text class="a g" x="238.5" y="76">100</text><text class="a s" x="238.5" y="89">104885</text><text class="a p" x="238.5" y="102">0.00%</text></g>
<g id="m108" transform="translate(720)"><text class="mn" x="0.5" y="-9">108</text><use href="#O" x="0"/><use href="#O" x="30"/><use href="#R" x="120"/><use href="#R" x="150"/><text class="a g" x="238.5" y="76">100</text><text class="a s" x="238.5" y="89">105785</text><text class="a p" x="238.5" y="102">0.00%</text></g>
<rect class="ovb" x="0" width="742.5" height="60"/><rect class="ovr" x="742.5" width="7" height="60"/>
</g>

<g id="row28" transform="translate(31.5 4012.5)"><use href="#staff4"/>
<g id="m109"><text class="mn" x="0.5" y="-9">109</text><use href="#Y" x="0"/><use href="#Y" x="30"/><use href="#B" x="120"/><use href="#B" x="150"/><text class="a g" x="238.5" y="76">100</text><text class="a s" x="238.5" y="89">106385</text><text class="a p" x="238.5" y="102">0.00%</text></g>
<g id="m110" transform="translate(240)"><text class="mn" x="0.5" y="-9">110</text><use href="#O" x="0"/><use href="#O" x="30"/><use href="#R" x="120"/><use href="#R" x="150"/><text class="a g" x="238.5" y="76">100</text><text class="a s" x="238.5" y="89">106985</text><text class="a p" x="238.5" y="102">0.00%</text></g>
<g id="m111" transform="translate(480)"><text class="mn" x="0.5" y="-9">111</text><use href="#Y" x="0"/><use href="#Y" x="30"/><use href="#B" x="120"/><use href="#B" x="150"/><text class="a g" x="238.5" y="76">100</text><text class="a s" x="238.5" y="89">107585</text><text class="a p" x="238.5" y="102">0.00%</text></g>
<g id="m112" transform="translate(720)"><text class="mn" x="0.5" y="-9">112</text><use href="#O" x="0"/><use href="#O" x="30"/><use href="#R" x="120"/><use href="#R" x="150"/><text class="a g" x="238.5" y="76">100</text><text class="a s" x="238.5" y="89">108185</text><text class="a p" x="238.5" y="102">0.00%</text></g>
</g>

<g id="row29" transform="translate(31.5 4153.5)"><use href="#staff3"/>
<g id="m113"><text class="mn" x="0.5" y="-9">113</text><use href="#Y" x="0"/><use href="#Y" x="30"/><use href="#B" x="120"/><use href="#B" x="150"/><text class="a g" x="238.5" y="76">100</text><text class="a s" x="238.5" y="89">108785</text><text class="a p" x="238.5" y="102">0.00%</text></g>
<g id="m114" transform="translate(240)"><text class="mn" x="0.5" y="-9">114</text><use href="#G" x="0"/><use href="#G" x="30"/><text class="a g" x="238.5" y="76">50</text><text class="a s" x="238.5" y="89">109085</text><text class="a p" x="238.5" y="102">0.00%</text></g>
<g id="m115" transform="translate(480)"><text class="mn" x="0.5" y="-9">115</text><rect class="uY" x="0" y="26.5" width="45" height="7"/><use href="#Y" x="0"/><text class="a g" x="238.5" y="76">34</text><text class="a s" x="238.5" y="89">109289</text><text class="a p" x="238.5" y="102">0.00%</text></g>
</g>
</g>
</svg>
